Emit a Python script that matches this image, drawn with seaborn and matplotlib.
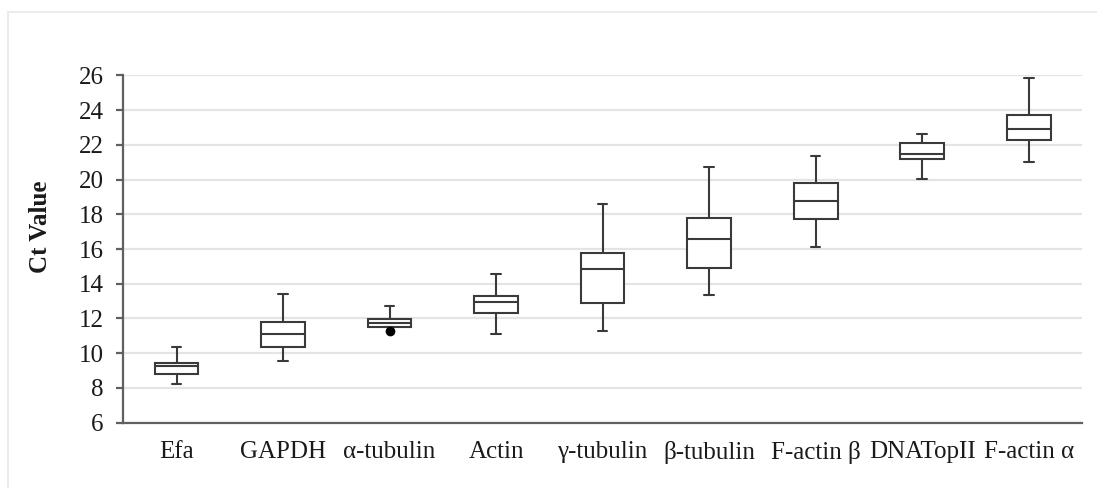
import numpy as np
import pandas as pd
import matplotlib
matplotlib.use("Agg")
import matplotlib.pyplot as plt
from matplotlib.patches import Rectangle
import seaborn as sns

categories = ["Efa", "GAPDH", "α-tubulin", "Actin", "γ-tubulin",
              "β-tubulin", "F-actin β", "DNATopII", "F-actin α"]
# five-number summaries: lower whisker, Q1, median, Q3, upper whisker
whisker_low = [8.25, 9.55, 11.52, 11.10, 11.28, 13.38, 16.12, 20.05, 21.00]
q1          = [8.78, 10.37, 11.53, 12.30, 12.90, 14.93, 17.70, 21.20, 22.30]
median      = [9.25, 11.11, 11.74, 12.96, 14.85, 16.60, 18.78, 21.45, 22.93]
q3          = [9.43, 11.82, 11.98, 13.30, 15.77, 17.78, 19.80, 22.08, 23.74]
whisker_high= [10.35, 13.40, 12.72, 14.57, 18.60, 20.74, 21.38, 22.64, 25.82]
outlier_cat = ["α-tubulin"]
outlier_val = [11.30]
yticks = list(range(6, 27, 2))

rows = []
for i, c in enumerate(categories):
    for v in (whisker_low[i], q1[i], median[i], q3[i], whisker_high[i]):
        rows.append({"gene": c, "ct": v})
df = pd.DataFrame(rows)
df_out = pd.DataFrame({"gene": outlier_cat, "ct": outlier_val})

sns.set_style("white")
serif = ["Liberation Serif", "DejaVu Serif"]
plt.rcParams["font.family"] = serif

fig = plt.figure(figsize=(10.97, 4.88), dpi=100)
ax = fig.add_axes([123.3 / 1097, 1 - 422.7 / 488, (1082 - 123.3) / 1097, (422.7 - 75.3) / 488])

# light frame around the chart
fig.patches.append(Rectangle((8 / 1097, -0.1), 1.2, (476 / 488) + 0.1,
                             transform=fig.transFigure, fill=False,
                             edgecolor="#ececec", linewidth=1.5, zorder=0))

line_col = "#3a3a3a"
sns.boxplot(data=df, x="gene", y="ct", order=categories, whis=(0, 100),
            width=0.41, color="white", linecolor=line_col, linewidth=1.5,
            fliersize=0, capwidths=0.09, ax=ax)
sns.stripplot(data=df_out, x="gene", y="ct", order=categories, jitter=False,
              color="black", size=7, ax=ax)

ax.set_ylim(6, 26)
ax.set_xlim(-0.5, len(categories) - 0.5)
ax.set_yticks(yticks)
ax.yaxis.grid(True, color="#e4e4e4", linewidth=1.6)
ax.set_axisbelow(True)
for s in ("top", "right"):
    ax.spines[s].set_visible(False)
for s in ("left", "bottom"):
    ax.spines[s].set_color("#606060")
    ax.spines[s].set_linewidth(1.6)

ax.set_xticks(range(len(categories)))
ax.set_xticklabels(categories)
ax.set_xticks(np.arange(-0.5, len(categories), 1.0), minor=True)
ax.tick_params(axis="x", which="major", length=0, pad=13, labelsize=18, colors="#1a1a1a")
ax.tick_params(axis="x", which="minor", length=6, width=1.6, color="#606060", direction="out")
ax.tick_params(axis="y", which="major", length=5, width=1.6, color="#606060",
               direction="out", pad=9, labelsize=18, labelcolor="#1a1a1a", left=True)

ax.set_xlabel("")
ax.set_ylabel("Ct Value", fontsize=18, fontweight="bold", color="#1a1a1a")
ax.yaxis.set_label_coords(-0.0744, 0.565)

fig.savefig("out.png", dpi=100)
